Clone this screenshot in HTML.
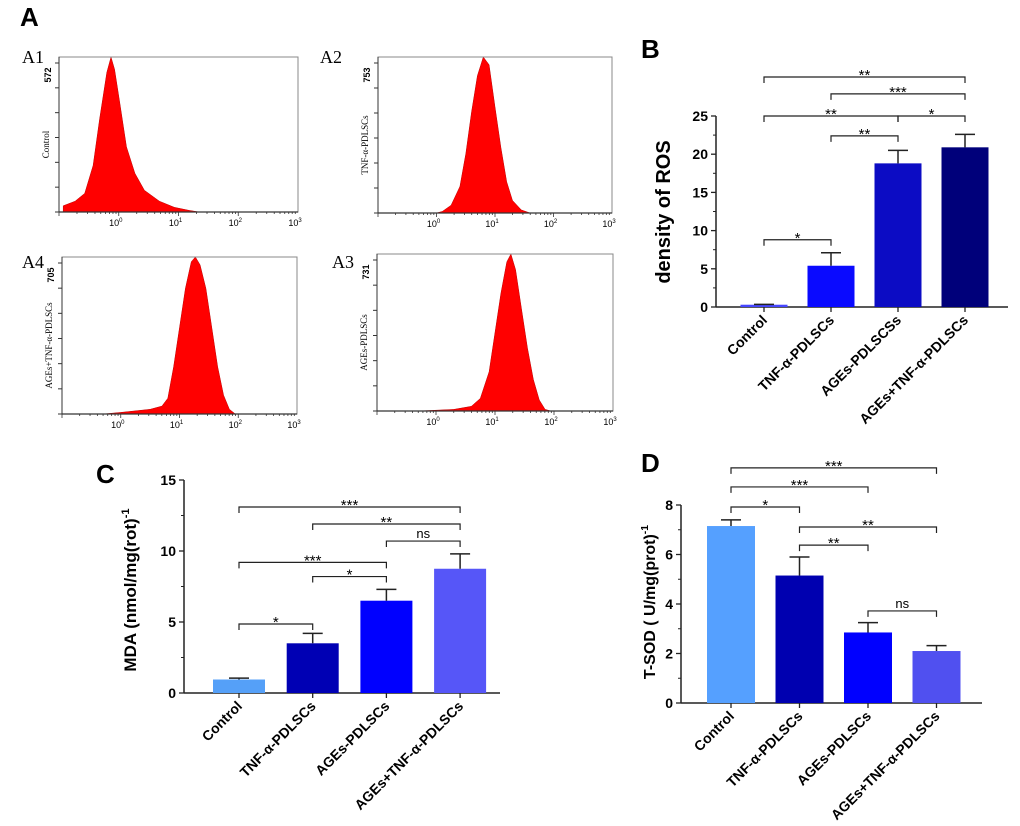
<!DOCTYPE html>
<html><head><meta charset="utf-8">
<style>
html,body{margin:0;padding:0;background:#fff;}
svg{display:block;font-family:"Liberation Sans",sans-serif;}
</style></head>
<body>
<svg id="fig" width="1020" height="826" viewBox="0 0 1020 826" xmlns="http://www.w3.org/2000/svg">
<text x="20" y="26" font-size="26" font-weight="bold">A</text>
<text x="641" y="58" font-size="26" font-weight="bold">B</text>
<text x="96" y="483" font-size="26" font-weight="bold">C</text>
<text x="641" y="472" font-size="26" font-weight="bold">D</text>
<g id="hists"></g>
<g id="chartB"></g>
<g id="chartC"></g>
<g id="chartD"></g>
</svg>
<script>
// ---------- Panel A histogram data (log10 fluorescence, relative count) ----------
const histNames = ["A1","A2","A4","A3"];
const histYLabels = ["Control","TNF-α-PDLSCs","AGEs+TNF-α-PDLSCs","AGEs-PDLSCs"];
const histMaxLabels = ["572","753","705","731"];
const histLogA1 = [-0.93,-0.73,-0.57,-0.43,-0.32,-0.2,-0.13,-0.07,0.02,0.13,0.27,0.43,0.68,0.93,1.18,1.35];
const histValA1 = [0.04,0.07,0.12,0.3,0.6,0.9,1.0,0.92,0.7,0.42,0.25,0.14,0.07,0.03,0.01,0];
const histLogA2 = [0.0,0.1,0.25,0.4,0.5,0.6,0.7,0.8,0.9,1.0,1.1,1.2,1.3,1.45,1.6];
const histValA2 = [0,0.01,0.05,0.17,0.38,0.65,0.88,1.0,0.95,0.68,0.42,0.2,0.08,0.02,0];
const histLogA4 = [-0.3,0.0,0.5,0.7,0.8,0.9,1.0,1.1,1.2,1.27,1.35,1.45,1.55,1.65,1.75,1.85,1.95];
const histValA4 = [0,0.01,0.03,0.05,0.1,0.3,0.55,0.8,0.97,1.0,0.95,0.8,0.55,0.3,0.12,0.03,0];
const histLogA3 = [-0.3,0.3,0.6,0.75,0.9,1.0,1.1,1.2,1.27,1.35,1.45,1.55,1.65,1.75,1.85,1.95];
const histValA3 = [0,0.01,0.03,0.08,0.25,0.5,0.75,0.95,1.0,0.9,0.65,0.4,0.2,0.07,0.01,0];
const histLogs = [histLogA1,histLogA2,histLogA4,histLogA3];
const histVals = [histValA1,histValA2,histValA4,histValA3];
const decadeLabels = ["10","10","10","10"];
const decadeExps = ["0","1","2","3"];

// ---------- Panel B ----------
const catB = ["Control","TNF-α-PDLSCs","AGEs-PDLSCSs","AGEs+TNF-α-PDLSCs"];
const valB = [0.3,5.4,18.8,20.9];
const errB = [0.05,1.7,1.7,1.7];
const ticksB = [0,5,10,15,20,25];
const sigB_from = [0,1,0,2,1,0];
const sigB_to   = [3,3,2,3,2,1];
const sigB_lvl  = [30.1,27.9,25.0,25.0,22.4,8.8];
const sigB_lab  = ["**","***","**","*","**","*"];

// ---------- Panel C ----------
const catC = ["Control","TNF-α-PDLSCs","AGEs-PDLSCs","AGEs+TNF-α-PDLSCs"];
const valC = [0.95,3.5,6.5,8.75];
const errC = [0.1,0.7,0.8,1.05];
const ticksC = [0,5,10,15];
const sigC_from = [0,1,2,0,1,0];
const sigC_to   = [3,3,3,2,2,1];
const sigC_lvl  = [13.1,11.9,10.7,9.2,8.2,4.86];
const sigC_lab  = ["***","**","ns","***","*","*"];

// ---------- Panel D ----------
const catD = ["Control","TNF-α-PDLSCs","AGEs-PDLSCs","AGEs+TNF-α-PDLSCs"];
const valD = [7.15,5.15,2.85,2.1];
const errD = [0.25,0.75,0.4,0.22];
const ticksD = [0,2,4,6,8];
const sigD_from = [0,0,0,1,1,2];
const sigD_to   = [3,2,1,3,2,3];
const sigD_lvl  = [9.5,8.73,7.92,7.11,6.38,3.72];
const sigD_lab  = ["***","***","*","**","**","ns"];

const NS="http://www.w3.org/2000/svg";
function mk(parent,tag,attrs,text){
  const e=document.createElementNS(NS,tag);
  for(const k in attrs) e.setAttribute(k,attrs[k]);
  if(text!==undefined) e.textContent=text;
  parent.appendChild(e); return e;
}

// ---- histograms ----
const hg=document.getElementById('hists');
const boxes=[[59,57,298,212],[378,57,612,213],[62,257,297,414],[377,254,613,411]];
const labelPos=[[22,63],[320,63],[22,268],[332,268]];
for(let h=0;h<4;h++){
  const [x0,y0,x1,y1]=boxes[h];
  const g=mk(hg,'g',{});
  
  
  const lx=v=>x0+(v+1)/4*(x1-x0);
  const ly=v=>y1-v*(y1-y0);
  const lab=mk(g,'text',{x:labelPos[h][0],y:labelPos[h][1],'font-size':18,'font-family':'Liberation Serif, serif'},histNames[h]);
  
  
  let pts=`${lx(histLogs[h][0])},${y1} `;
  for(let i=0;i<histLogs[h].length;i++) pts+=`${lx(histLogs[h][i]).toFixed(1)},${ly(histVals[h][i]).toFixed(1)} `;
  pts+=`${lx(histLogs[h][histLogs[h].length-1])},${y1}`;
  const poly=mk(g,'polygon',{points:pts,fill:'#ff0000',stroke:'#c00000','stroke-width':0.5,'stroke-linejoin':'round'});
  
  
  mk(g,'rect',{x:x0,y:y0,width:x1-x0,height:y1-y0,fill:'none',stroke:'#888','stroke-width':1});
  mk(g,'line',{x1:x0,y1:y1,x2:x1,y2:y1,stroke:'#333','stroke-width':1.2});
  mk(g,'line',{x1:x0,y1:y0,x2:x0,y2:y1,stroke:'#333','stroke-width':1});
  for(let k=0;k<=6;k++){const yy=y0+6+k*(y1-y0-6)/6;mk(g,'line',{x1:x0-4,y1:yy,x2:x0,y2:yy,stroke:'#333','stroke-width':1});}
  for(let d=-1;d<3;d++){for(let m=1;m<10;m++){const xx=lx(d+Math.log10(m));mk(g,'line',{x1:xx,y1:y1,x2:xx,y2:y1+(m==1?4:2),stroke:'#333','stroke-width':0.8});}}
  for(let d=0;d<4;d++){
    const t=mk(g,'text',{x:lx(d)-3,y:y1+14,'font-size':9,'text-anchor':'middle'});
    
    
    t.textContent=decadeLabels[d];
    mk(t,'tspan',{dy:-4,'font-size':6},decadeExps[d]);
  }
  const mt=mk(g,'text',{transform:`translate(${x0-8},${y0+18}) rotate(-90)`,'font-size':9,'font-weight':'bold','text-anchor':'middle'},histMaxLabels[h]);
  
  
  const yl=mk(g,'text',{transform:`translate(${x0-10},${(y0+y1)/2+10}) rotate(-90)`,'font-size':9,'font-family':'Liberation Serif, serif','text-anchor':'middle'},histYLabels[h]);
  
  
}

// ---- bar charts ----
function barChart(id,cfg){
  const g=document.getElementById(id);
  
  
  const y=v=>cfg.y0-(v/cfg.ymax)*(cfg.y0-cfg.ytop);
  const x=i=>cfg.xc0+i*cfg.step;
  mk(g,'line',{x1:cfg.ax,y1:cfg.ytop,x2:cfg.ax,y2:cfg.y0,stroke:'#222','stroke-width':1.5});
  mk(g,'line',{x1:cfg.ax,y1:cfg.y0,x2:cfg.axEnd,y2:cfg.y0,stroke:'#222','stroke-width':1.5});
  cfg.ticks.forEach((t,i)=>{
    mk(g,'line',{x1:cfg.ax-5,y1:y(t),x2:cfg.ax,y2:y(t),stroke:'#222','stroke-width':1.3});
    const tl=mk(g,'text',{x:cfg.ax-8,y:y(t)+5,'font-size':14,'font-weight':'bold','text-anchor':'end'},String(t));
    
    
    if(i<cfg.ticks.length-1){const mid=(t+cfg.ticks[i+1])/2;mk(g,'line',{x1:cfg.ax-3,y1:y(mid),x2:cfg.ax,y2:y(mid),stroke:'#222','stroke-width':1});}
  });
  const yl=mk(g,'text',{transform:`translate(${cfg.ylx},${cfg.yly}) rotate(-90)`,'font-size':cfg.ylsize,'font-weight':'bold','text-anchor':'middle'});
  
  
  yl.textContent=cfg.ylabel;
  if(cfg.ysup){mk(yl,'tspan',{dy:-7,'font-size':cfg.ylsize*0.65},cfg.ysup);}
  cfg.cats.forEach((c,i)=>{
    const b=mk(g,'rect',{x:x(i)-cfg.bw/2,y:y(cfg.vals[i]),width:cfg.bw,height:cfg.y0-y(cfg.vals[i]),fill:cfg.colors[i]});
    
    
    const top=y(cfg.vals[i]+cfg.errs[i]);
    const eb=mk(g,'path',{d:`M${x(i)},${y(cfg.vals[i])}V${top}M${x(i)-10},${top}H${x(i)+10}`,stroke:'#222','stroke-width':1.5,fill:'none'});
    
    
    mk(g,'line',{x1:x(i),y1:cfg.y0,x2:x(i),y2:cfg.y0+5,stroke:'#222','stroke-width':1.3});
    const xl=mk(g,'text',{transform:`translate(${x(i)+4},${cfg.y0+14}) rotate(-45)`,'font-size':14,'font-weight':'bold','text-anchor':'end'},c);
    
    
  });
  cfg.sfrom.forEach((f,k)=>{
    const yy=y(cfg.slvl[k]); const xa=x(f), xb=x(cfg.sto[k]);
    const br=mk(g,'path',{d:`M${xa},${yy+6}V${yy}H${xb}V${yy+6}`,stroke:'#222','stroke-width':1.2,fill:'none'});
    
    
    const isNs=cfg.slab[k]=='ns';
    const st=mk(g,'text',{x:(xa+xb)/2,y:yy-(isNs?3:-3),'font-size':isNs?13:15,'text-anchor':'middle'},cfg.slab[k]);
    
    
  });
}
barChart('chartB',{name:'ros-bar-chart',cats:catB,vals:valB,errs:errB,ticks:ticksB,ymax:25,y0:307,ytop:116,ax:716,axEnd:1008,xc0:764,step:67,bw:47,
  colors:['#4646ff','#0a0aff','#0c0cc4','#00007a'],ylabel:'density of ROS',ylx:670,yly:212,ylsize:20,
  sfrom:sigB_from,sto:sigB_to,slvl:sigB_lvl,slab:sigB_lab});
barChart('chartC',{name:'mda-bar-chart',cats:catC,vals:valC,errs:errC,ticks:ticksC,ymax:15,y0:693,ytop:480,ax:184,axEnd:500,xc0:239,step:73.7,bw:52,
  colors:['#55a0f8','#0000b4','#0000ff','#5656f8'],ylabel:'MDA (nmol/mg(rot)',ysup:'-1',ylx:136,yly:590,ylsize:17,
  sfrom:sigC_from,sto:sigC_to,slvl:sigC_lvl,slab:sigC_lab});
barChart('chartD',{name:'tsod-bar-chart',cats:catD,vals:valD,errs:errD,ticks:ticksD,ymax:8,y0:703,ytop:505,ax:681,axEnd:982,xc0:731,step:68.5,bw:48,
  colors:['#55a0ff','#0000b0','#0000ff','#5050f0'],ylabel:'T-SOD ( U/mg(prot)',ysup:'-1',ylx:655,yly:602,ylsize:16,
  sfrom:sigD_from,sto:sigD_to,slvl:sigD_lvl,slab:sigD_lab});
</script>
</body></html>
